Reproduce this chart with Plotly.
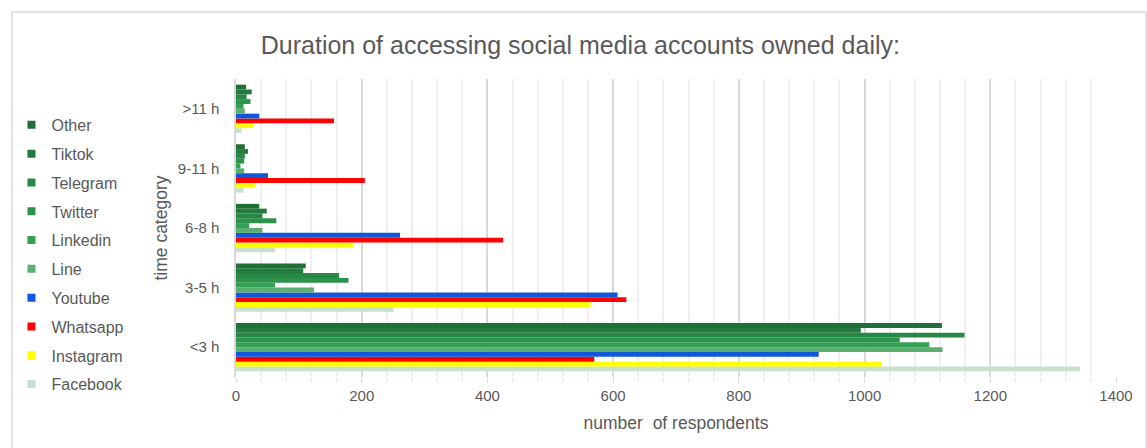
import plotly.graph_objects as go

categories = ["<3 h", "3-5 h", "6-8 h", "9-11 h", ">11 h"]

# series listed bottom-to-top within each group
facebook = [1343, 251, 62, 12, 9]
instagram = [1027, 564, 186, 30, 28]
whatsapp = [570, 621, 425, 205, 156]
youtube = [927, 607, 261, 51, 37]
line_ = [1124, 124, 42, 13, 14]
linkedin = [1103, 62, 21, 7, 12]
twitter = [1056, 179, 64, 13, 23]
telegram = [1159, 164, 42, 14, 17]
tiktok = [994, 107, 49, 19, 25]
other = [1123, 111, 37, 14, 16]

series = [
    ("Facebook", facebook, "#c9e0cd"),
    ("Instagram", instagram, "#ffff00"),
    ("Whatsapp", whatsapp, "#ff0000"),
    ("Youtube", youtube, "#1157d9"),
    ("Line", line_, "#5aae6e"),
    ("Linkedin", linkedin, "#33a055"),
    ("Twitter", twitter, "#2c934b"),
    ("Telegram", telegram, "#288744"),
    ("Tiktok", tiktok, "#247b3e"),
    ("Other", other, "#1f6f37"),
]

fig = go.Figure()
for name, vals, col in series:
    fig.add_trace(go.Bar(
        y=categories, x=vals, name=name, orientation="h",
        marker=dict(color=col, line=dict(width=0)),
        showlegend=False,
    ))
# legend entries with small square keys (top-to-bottom order)
for name, vals, col in reversed(series):
    fig.add_trace(go.Scatter(
        x=[None], y=[None], mode="markers", name=name, legendgroup="lg_" + name,
        marker=dict(symbol="square", size=8, color=col),
        showlegend=True, hoverinfo="skip",
    ))

grey = "#595959"
fig.update_layout(
    width=1147, height=448,
    margin=dict(l=236, r=31, t=79, b=71),
    paper_bgcolor="white", plot_bgcolor="white",
    font=dict(family="Liberation Sans, Arial, sans-serif", color=grey, size=15),
    barmode="group", bargap=0.19, bargroupgap=0,
    title=dict(text="Duration of accessing social media accounts owned daily:",
               x=0.506, xanchor="center", y=0.9, yanchor="middle",
               font=dict(size=25, color=grey)),
    legend=dict(traceorder="grouped", xref="container", yref="container",
                x=0.01, xanchor="left", y=0.759, yanchor="top",
                font=dict(size=16, color=grey), tracegroupgap=5,
                itemwidth=30, bgcolor="rgba(0,0,0,0)", maxheight=420),
    xaxis=dict(range=[0, 1400], dtick=200, showgrid=True, gridcolor="#d9d9d9",
               gridwidth=1.5, zeroline=False, ticks="outside", ticklen=5,
               tickcolor="#d9d9d9",
               minor=dict(dtick=40, showgrid=True, gridcolor="#efefef",
                          ticks="outside", ticklen=4, tickcolor="#e6e6e6"),
               tickfont=dict(size=15, color=grey),
               title=dict(text="number  of respondents", font=dict(size=17.5, color=grey),
                          standoff=13)),
    yaxis=dict(showline=True, linecolor="#d9d9d9", linewidth=1.5, ticks="",
               ticklabelstandoff=12,
               tickfont=dict(size=15, color=grey),
               title=dict(text="time category", font=dict(size=17.5, color=grey),
                          standoff=6)),
    shapes=[dict(type="rect", xref="paper", yref="paper",
                 x0=-0.2545, x1=1.034, y0=-0.3, y1=1.2248,
                 line=dict(color="#d9d9d9", width=1.5), layer="below")],
)

fig.write_html("out.html")
